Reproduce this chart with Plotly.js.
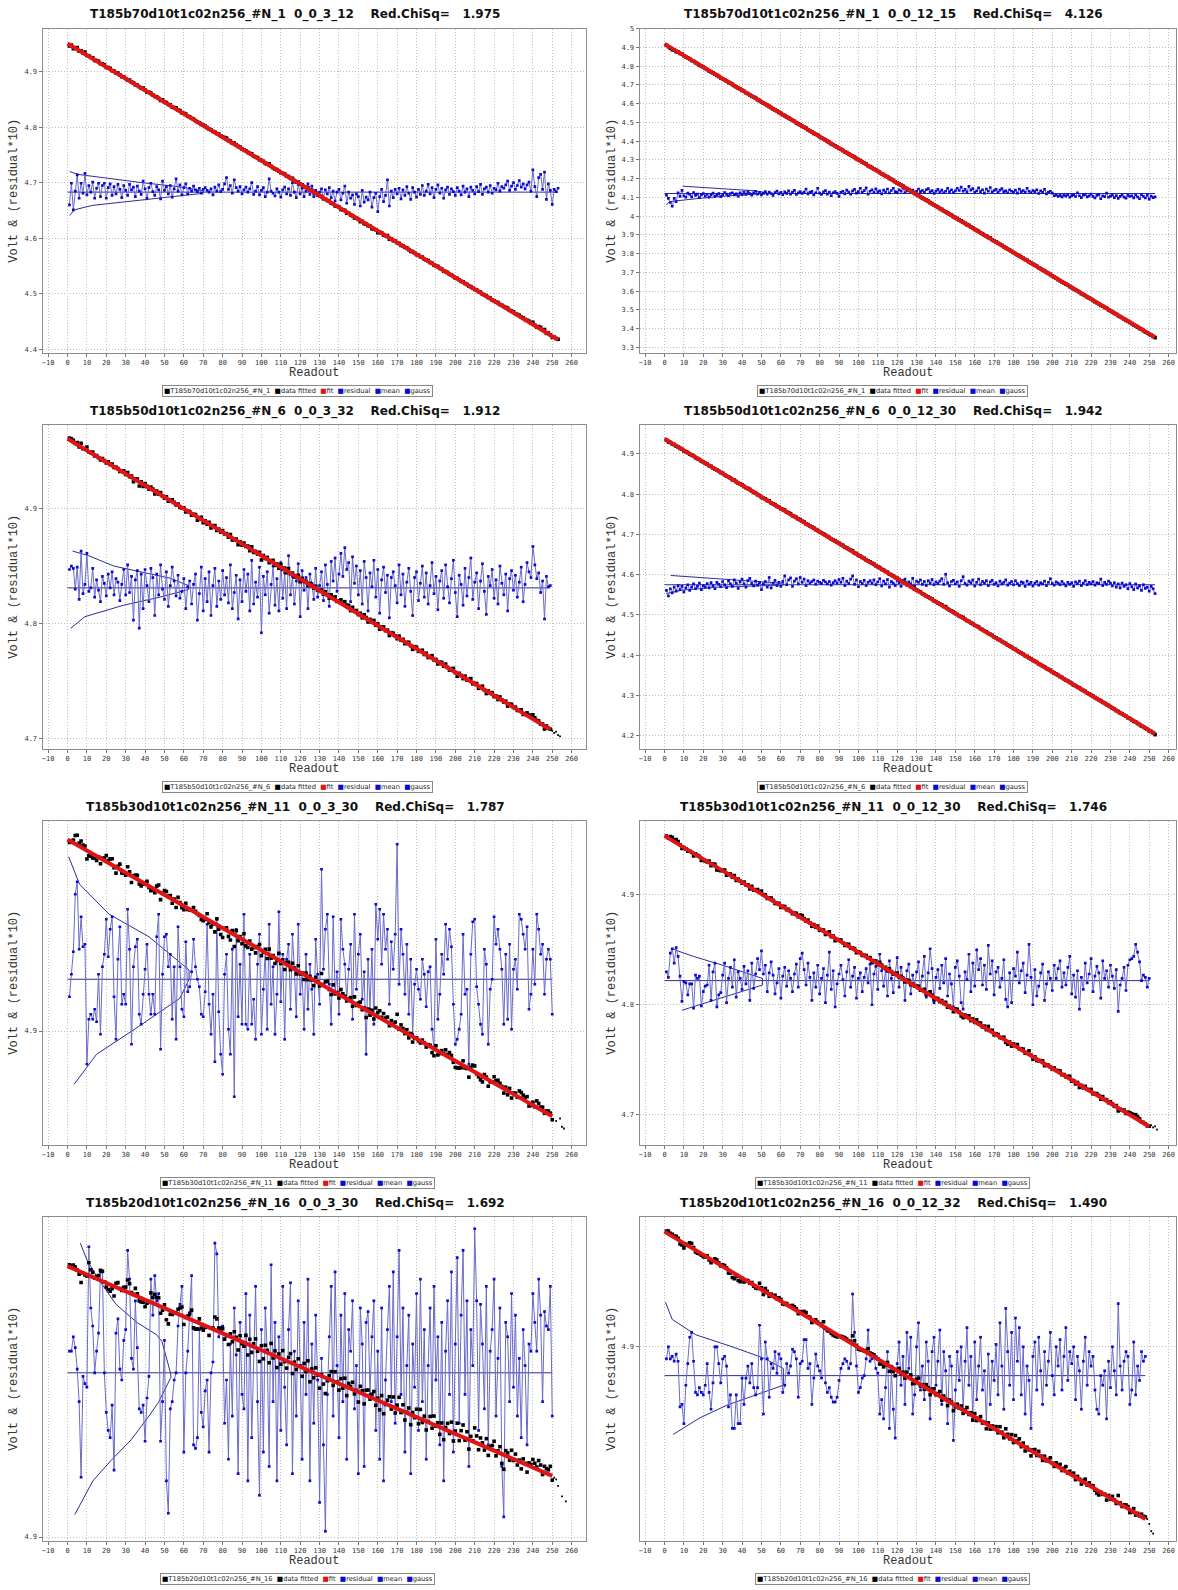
<!DOCTYPE html>
<html><head><meta charset="utf-8">
<script src="https://cdn.plot.ly/plotly-3.0.1.min.js"></script>
<style>html,body{margin:0;padding:0;background:#fff;}#chart{width:1178px;height:1590px;}</style>
</head><body><div id="chart"></div>
<script>
// ---------------- DATA ----------------
const titles = [
  "T185b70d10t1c02n256_#N_1  0_0_3_12    Red.ChiSq=   1.975",
  "T185b70d10t1c02n256_#N_1  0_0_12_15    Red.ChiSq=   4.126",
  "T185b50d10t1c02n256_#N_6  0_0_3_32    Red.ChiSq=   1.912",
  "T185b50d10t1c02n256_#N_6  0_0_12_30    Red.ChiSq=   1.942",
  "T185b30d10t1c02n256_#N_11  0_0_3_30    Red.ChiSq=   1.787",
  "T185b30d10t1c02n256_#N_11  0_0_12_30    Red.ChiSq=   1.746",
  "T185b20d10t1c02n256_#N_16  0_0_3_30    Red.ChiSq=   1.692",
  "T185b20d10t1c02n256_#N_16  0_0_12_32    Red.ChiSq=   1.490"
];
const seriesNames = ["T185b70d10t1c02n256_#N_1","T185b70d10t1c02n256_#N_1","T185b50d10t1c02n256_#N_6","T185b50d10t1c02n256_#N_6",
  "T185b30d10t1c02n256_#N_11","T185b30d10t1c02n256_#N_11","T185b20d10t1c02n256_#N_16","T185b20d10t1c02n256_#N_16"];
const legendLabels = ["data fitted","fit","residual","mean","gauss"];
const xAxisTitle = "Readout";
const yAxisTitle = "Volt & (residual*10)";
const firstReadout = 1;

// linear fit end points (readout, volt)
const fitX = [[0,253],[0,253],[0,249],[0,253],[0,250],[0,250],[0,250],[0,248]];
const fitY = [[4.951,4.417],[4.919,3.354],[4.9606,4.708],[4.938,4.205],[4.9766,4.8659],[4.9535,4.6889],[4.9752,4.917],[4.9478,4.8281]];
// mean level of the residual*10 band
const means = [4.683, 4.121, 4.831, 4.575, 4.9207, 4.8217, 4.9456, 4.8878];

// residual*10 about the mean, in units of 0.001 V, readout 1,2,3,...
const res_p1 = [-23,16,-32,2,31,-11,16,-2,34,-5,12,0,18,-11,7,16,-8,12,16,-11,8,15,-6,10,-3,14,5,-10,12,3,
-6,14,4,9,-8,11,2,-4,20,6,-11,8,16,1,-6,10,4,-12,20,3,10,-3,12,-9,6,24,2,13,-5,8,
15,-3,7,2,11,4,1,7,-2,5,8,3,0,6,-5,9,2,13,1,5,15,26,5,12,-2,22,8,2,10,-3,
4,9,0,6,17,-4,2,10,-5,3,8,-8,0,24,2,-2,-7,6,0,-9,4,9,-3,6,-6,17,0,-10,14,-3,
7,-8,2,15,-4,11,-8,3,-6,0,6,-12,4,-3,8,-10,2,-16,0,5,-14,-2,11,-20,0,-11,-5,-22,-3,-8,
-25,3,-18,-9,-14,0,-27,-10,-2,-35,-8,5,-17,-6,22,-25,2,-10,5,-3,7,-12,4,-6,10,-2,-13,8,0,-9,
5,-4,12,-6,2,14,-3,8,-10,5,13,-2,7,-11,4,9,-4,6,1,-6,8,2,-5,11,0,6,-8,9,3,-3,
10,1,14,-4,6,9,0,12,-2,7,4,16,2,10,7,13,20,3,11,17,5,12,21,9,15,6,13,18,2,40,
10,-8,26,32,5,36,-13,15,3,-22,5,1,7];
const res_p2 = [-9,-26,-48,-68,-26,-43,3,-15,17,-12,-20,2,-5,-18,5,-10,-3,-22,-8,0,-14,-4,-20,-7,2,-15,-9,-1,-17,-6,
5,-3,-12,0,4,-8,-2,-14,3,-6,7,-5,10,-1,-9,4,12,-3,6,-7,2,10,-4,8,0,-10,5,13,-2,6,
-6,9,1,14,-3,7,17,-5,3,10,0,8,24,-2,6,11,-8,4,28,2,-5,9,15,-3,7,-12,4,10,1,-15,
6,12,-2,18,8,-4,14,22,2,10,28,6,15,30,-4,12,20,5,25,9,14,-2,18,8,24,3,16,28,10,6,
20,12,30,4,14,22,8,18,2,12,24,10,16,6,20,26,9,15,1,13,22,7,18,4,12,27,10,20,5,14,
28,16,34,12,22,8,38,18,26,6,14,30,10,20,2,24,12,32,8,16,22,6,18,26,10,14,4,20,12,8,
18,2,24,10,16,6,28,12,4,16,10,20,0,14,6,22,-2,8,12,2,-12,-8,-15,-10,-18,-9,-14,-6,-20,-11,
-7,-16,4,-12,-22,-9,-5,-18,-13,-3,-15,-24,-10,-6,-28,-12,-17,2,-20,-14,-9,-22,-11,-26,-15,-7,-19,-25,-10,-16,
-12,-23,-8,-18,-28,-6,-15,-24,-9,-30,-14,-22,-18];
const res_p3 = [16,19,17,-1,18,-10,32,-5,3,30,-3,0,17,-8,7,-2,-12,10,4,-7,12,0,14,-6,8,5,-11,3,16,-6,
20,-4,10,-28,7,15,-35,12,-18,16,2,-12,17,9,-24,12,-6,20,-1,-10,14,-16,2,18,6,-7,11,-9,-3,8,
-18,1,6,-14,3,12,-28,-5,18,-20,8,-12,14,-24,2,17,-16,6,-10,15,-6,9,-13,20,-18,-4,11,-27,7,-12,
16,-3,12,-20,24,-14,5,-8,18,-39,10,-6,14,-22,3,19,-15,8,-20,22,-9,13,-18,28,-6,10,-14,6,21,-25,
15,-2,9,-18,12,4,-10,17,-8,2,14,-11,20,3,-16,23,6,26,-3,12,30,10,35,16,22,-12,27,4,19,-6,
15,-14,23,9,-20,13,1,24,-8,16,-22,7,18,-4,11,-26,9,14,2,-13,20,-6,12,-16,5,17,-3,-24,9,14,
-11,4,19,-8,13,-14,2,22,-5,10,-19,6,15,-9,20,1,-13,8,24,-4,-25,11,3,-15,17,-7,9,26,-10,5,
13,-18,6,21,-3,-23,10,2,16,-9,7,-14,19,4,-6,12,-20,8,15,-2,11,-8,5,18,-12,3,22,14,9,36,
20,8,13,-4,6,-27,10,1,2];
const res_p4 = [-14,-28,-10,-20,-6,-16,-2,-12,-4,-18,-8,0,-14,-6,2,-10,-4,4,-12,-2,-6,3,-8,5,-2,-10,6,1,-5,8,
0,-7,10,2,-4,12,4,-9,7,14,2,-6,10,16,3,-3,9,-1,5,-12,2,8,-6,18,-8,4,11,-2,6,-4,
8,22,0,12,17,-4,9,15,2,18,6,14,-2,10,4,8,12,1,9,6,3,11,7,2,8,-1,5,10,4,13,
6,16,-2,9,3,14,22,1,12,-5,8,3,11,-2,6,10,4,12,0,7,15,-3,9,2,13,-6,8,4,-2,11,
5,-4,10,14,-1,7,2,16,-3,9,6,12,1,8,-2,10,4,13,0,7,3,9,15,1,26,5,-3,8,11,2,
7,-4,10,20,3,-1,9,5,12,-3,6,14,0,8,4,10,-2,7,11,1,5,-3,9,2,6,12,-1,4,8,0,
10,3,-2,7,5,-4,9,1,6,-3,4,8,-1,5,2,9,-2,6,15,3,-1,7,4,0,8,2,-3,6,1,5,
-4,7,3,9,-2,4,10,0,6,2,8,-1,5,3,14,-2,6,1,9,4,-3,5,-6,2,-8,4,-4,0,-10,3,
-5,-12,2,-8,-3,-14,0,-9,-6,-16,-4,-10,-22];
const res_p5 = [-7,2,11,34,39,12,25,13,14,-34,-16,-14,-16,-12,-17,2,-22,5,10,24,9,20,25,-7,-24,8,21,-10,-6,-10,
28,12,-26,5,13,16,-14,-18,-6,4,14,-6,-14,-6,-14,17,26,-28,2,17,18,5,10,-16,5,-24,21,5,-12,-15,
15,-5,-3,3,16,5,0,-3,-14,-15,-5,22,-10,-22,-6,-33,24,-13,-30,-38,2,10,-20,-30,12,-47,20,-15,6,-18,
26,-18,-20,10,-18,-8,-24,6,18,-22,-4,12,-20,22,-10,5,-22,-6,27,-9,10,-24,8,14,-12,18,4,-15,22,-6,
2,-20,10,-12,6,-4,-22,16,2,-10,44,4,20,26,-2,-18,25,-6,3,-14,24,12,6,-8,4,14,-16,26,-4,10,
18,-8,3,-30,8,-12,12,-18,30,16,28,6,26,12,20,-10,15,4,18,54,-2,20,10,-6,14,-14,8,-22,-2,4,
-4,-8,8,2,-11,3,5,-20,-28,16,-16,-6,10,2,22,8,20,13,-10,-26,-24,-20,-14,18,-6,-4,-34,10,23,24,
-3,-10,-18,-22,12,6,-26,-4,0,25,14,20,12,4,-18,10,-16,14,-20,4,8,-4,26,24,18,12,21,-12,-6,12,
-2,26,20,10,14,-6,8,12,8,-14];
const res_p6 = [8,3,25,29,16,30,22,4,-19,-1,-2,-13,-3,-3,-25,5,2,4,-23,-10,-5,-4,14,-18,8,16,-24,-13,-11,5,
16,-20,2,12,-6,19,-15,8,2,-8,13,-3,9,-18,16,-7,6,20,10,27,6,14,-10,7,17,5,-12,-2,11,-16,
4,12,-5,9,2,-10,6,15,-6,20,25,10,-4,16,3,-18,7,-6,14,-12,2,11,-20,5,26,-8,9,-24,-3,6,
14,1,-14,8,19,-6,4,12,-16,2,7,-10,3,11,-2,15,-22,6,13,-8,24,9,-5,10,-14,18,2,-11,6,21,
-6,12,3,-18,9,15,-12,5,-4,8,17,-9,4,22,-15,7,29,11,-20,3,10,-7,14,-2,20,-14,6,-3,-24,12,
18,4,-20,-26,8,1,24,-10,16,-5,28,10,20,-4,14,-8,32,6,18,-13,8,12,-6,2,19,-17,-24,7,-20,11,
4,26,-2,9,16,-11,5,33,3,-22,10,-14,-5,7,15,-18,-3,8,2,-9,14,2,11,18,-6,7,-4,12,22,-12,
5,-15,9,-26,3,-8,16,-2,6,20,-10,4,13,7,-16,18,2,9,-6,14,4,-7,10,-28,-4,2,12,-9,14,19,
20,22,33,26,17,0,5,3,-6,2];
const res_p7 = [6,6,10,7,1,-8,-29,-1,-3,-4,35,18,13,0,6,11,28,28,0,-11,-16,-18,-9,-27,11,15,1,-2,9,12,
34,26,4,1,20,7,-10,-11,-9,-19,-7,-1,26,16,27,20,22,-19,-8,9,-30,-39,-10,-8,-2,0,13,19,24,-22,
0,6,16,27,-20,-21,-18,12,-11,-15,-5,-2,-22,0,3,36,33,10,12,13,-14,-2,-24,8,-12,18,5,-28,14,-6,
-10,22,-30,16,-18,8,24,-8,-34,12,-22,18,6,-26,30,-8,14,-30,10,-16,24,-4,-20,12,25,-28,6,-12,20,2,
-24,14,-6,26,-30,8,-14,16,-2,-36,4,-20,-44,-6,10,24,-12,28,2,-18,16,-8,22,-24,12,6,20,-10,2,-28,
18,8,-26,14,17,-6,10,20,-16,6,-24,18,-30,-2,12,24,-8,28,-14,10,34,-6,18,-22,2,16,-28,8,-4,22,
-16,26,-8,12,-24,2,18,-12,24,-2,10,-20,14,-30,6,20,-6,28,-22,8,32,-14,16,34,-6,20,-26,12,2,40,
20,-16,19,8,-10,24,-20,6,12,26,-12,4,18,-26,-40,14,10,-8,22,-4,16,-12,4,-18,12,2,-20,8,6,22,
14,6,26,16,-8,17,13,12,24,-12];
const res_p8 = [7,12,7,8,6,9,6,-13,-12,-20,-4,5,16,18,6,-7,-8,-5,-7,-8,-4,5,-7,-14,-3,12,12,5,-3,7,
8,4,-13,-8,-22,-22,-8,-20,-20,-1,-12,-1,4,-3,5,-5,-8,-5,21,7,-16,14,7,-9,5,3,10,1,9,7,
-7,-4,5,1,4,11,10,7,-9,5,6,15,15,3,5,-12,-1,9,4,2,-1,20,-3,-7,-5,-9,-11,-11,-9,-2,
3,5,7,6,3,5,34,18,4,-7,-5,-1,0,7,19,6,7,8,3,1,-16,-10,-18,-5,10,-22,2,-14,-26,5,
14,-4,8,-12,18,3,16,-16,-8,12,22,-6,4,-10,14,6,-18,10,16,-4,6,19,-12,10,2,-20,8,4,-27,-6,
10,-2,12,-14,6,20,-4,8,-18,14,-10,4,16,-6,2,-20,9,-12,6,-2,13,-8,22,4,-14,28,10,-4,18,-10,
24,6,20,-8,12,-16,4,-2,-22,8,14,-6,16,2,-12,10,-4,6,18,0,-8,12,4,15,-6,8,20,-2,10,5,
12,-10,8,2,-14,6,16,-4,10,4,8,-6,-14,-16,0,-4,2,-18,6,-5,12,2,-8,30,4,-6,6,10,8,-12,
-6,14,-8,4,-2,10,6,8];
const residuals = [res_p1,res_p2,res_p3,res_p4,res_p5,res_p6,res_p7,res_p8];

// gauss curve vertices: readout and offset from the mean (0.001 V)
const gaussX = [
  [1.1,3.5,12.7,29,47.7,70,70,57,38.5,20,5.3,1.1],
  [0.9,2.7,18,36,54,47,9.4],
  [1.7,5.3,9,29,47.7,62.4,62.4,53,38.5,23.8,10.9,2.6],
  [0.9,9,27,61.4,61.4,36,18,3.2],
  [3.4,15,36.5,58,62.7,62.7,42,21.5,6.2,0.6],
  [9,25,40,50.5,50.5,30,15,3.6],
  [3.7,13.1,22.5,32.8,42,46.8,53.4,53,48.7,45.9,36,25,16,10.3,6.6],
  [4.5,18,32.5,46.9,61.3,61.3,50.5,34.3,16.2,4,0.5]
];
const gaussDev = [
  [-42,-32,-24,-18,-11,-2,2.4,10,17,25,32,37],
  [-62,-43,-26,-10,0,14,39],
  [-35,-30,-25,-15,-8,-1.4,2,8.4,13.5,19,28,32],
  [-22,-13.6,-6.2,-0.6,3.4,12,17.5,23],
  [-42,-30,-19,-7.6,0,3.7,17,26,38,49],
  [-27,-18,-10,-4,2,14,22,29],
  [-39.4,-30,-24.3,-18.6,-12,-8.3,-1.2,0.2,8.7,10.6,13.9,19,26,31,36],
  [-24.5,-17.7,-12.2,-8.2,-4,3,7.5,12.2,17,23.4,30.6]
];
// raw readouts past the fitted range (tiny dots)
const tailX = [[],[],[250,251,252,253,254],[],[252,254,255,256],[251,252,253,254],[251,252,253,255,257],[249,250,251,252]];
const tailY = [[],[],[4.707,4.705,4.706,4.703,4.702],[],[4.864,4.865,4.8617,4.861],[4.690,4.688,4.689,4.686],[4.9165,4.916,4.9142,4.9113,4.9099],[4.828,4.826,4.823,4.822]];

// ---------------- LAYOUT GEOMETRY ----------------
const W = 1178, H = 1590;
const colL = [42.5, 639.5], colR = [586, 1176];
const xRanges = [[-12.9, 267.4], [-12.9, 263.8]];
const rowTop = [28.5, 424.5, 820.5, 1216.5], plotH = 324.5;
const yRanges = [[4.393,4.978],[3.2703,5.001],[4.691,4.973],[4.167,4.973],[4.8544,4.9842],[4.672,4.9675],[4.8989,4.989],[4.8189,4.9541]];
const titleCX = [295, 893], legendCX = [297, 892], yTitleX = [14, 612];

const RED = '#e01414', BLUE = '#0a0ad2', BLUELINE = '#6a6ac8', DARKBLUE = '#2c2c96';
const traces = [], annotations = [], layout = {
  width: W, height: H, margin: {l:0, r:0, t:0, b:0},
  paper_bgcolor: '#fff', plot_bgcolor: '#fff', showlegend: false
};
const nb = s => s.replace(/ /g, '\u00a0');

for (let k = 0; k < 8; k++) {
  const col = k % 2, row = Math.floor(k / 2);
  const n = k === 0 ? '' : String(k + 1);
  const xa = 'x' + n, ya = 'y' + n;
  const top = rowTop[row], bot = top + plotH;
  const axCommon = {
    showgrid: true, gridcolor: '#bdbdbd', griddash: '1px,2px', gridwidth: 1,
    zeroline: false, showline: true, mirror: true, linecolor: '#8c8c8c', linewidth: 1,
    ticks: 'outside', ticklen: 3, tickcolor: '#777',
    tickfont: {family: 'DejaVu Sans Mono, monospace', size: 7, color: '#333'}
  };
  layout['xaxis' + n] = Object.assign({}, axCommon, {
    domain: [colL[col] / W, colR[col] / W], range: xRanges[col], tick0: 0, dtick: 10, anchor: ya
  });
  layout['yaxis' + n] = Object.assign({}, axCommon, {
    domain: [1 - bot / H, 1 - top / H], range: yRanges[k], tick0: 0, dtick: 0.1, anchor: xa
  });

  const res = residuals[k], m = means[k], fx = fitX[k], fy = fitY[k];
  const rx = res.map((_, i) => firstReadout + i);
  const fitAt = x => fy[0] + (fy[1] - fy[0]) * (x - fx[0]) / (fx[1] - fx[0]);

  // gauss
  traces.push({x: gaussX[k], y: gaussDev[k].map(d => m + d / 1000), xaxis: xa, yaxis: ya,
    mode: 'lines', line: {color: DARKBLUE, width: 1}, hoverinfo: 'skip'});
  // mean
  traces.push({x: [fx[0], rx[rx.length - 1]], y: [m, m], xaxis: xa, yaxis: ya,
    mode: 'lines', line: {color: DARKBLUE, width: 1}, hoverinfo: 'skip'});
  // residual*10
  traces.push({x: rx, y: res.map(r => m + r / 1000), xaxis: xa, yaxis: ya,
    mode: 'lines+markers', line: {color: BLUELINE, width: 1},
    marker: {symbol: 'square', size: 2.7, color: BLUE}, hoverinfo: 'skip'});
  // data fitted (fit + residual)
  traces.push({x: rx, y: res.map((r, i) => fitAt(rx[i]) + r / 10000), xaxis: xa, yaxis: ya,
    mode: 'markers', marker: {symbol: 'square', size: 3.6, color: '#000'}, hoverinfo: 'skip'});
  // fit
  traces.push({x: fx, y: fy, xaxis: xa, yaxis: ya, mode: 'lines',
    line: {color: RED, width: 4}, hoverinfo: 'skip'});
  // raw tail dots
  traces.push({x: tailX[k], y: tailY[k], xaxis: xa, yaxis: ya, mode: 'markers',
    marker: {symbol: 'square', size: 1.8, color: '#000'}, hoverinfo: 'skip'});

  // panel title
  annotations.push({xref: 'paper', yref: 'paper', x: titleCX[col] / W, y: 1 - (top - 13.5) / H,
    xanchor: 'center', yanchor: 'middle', showarrow: false,
    text: '<b>' + nb(titles[k]) + '</b>', font: {family: 'DejaVu Sans, sans-serif', size: 12, color: '#111'}});
  // x title
  annotations.push({xref: 'paper', yref: 'paper', x: (colL[col] + colR[col]) / 2 / W, y: 1 - (bot + 20) / H,
    xanchor: 'center', yanchor: 'middle', showarrow: false, text: xAxisTitle,
    font: {family: 'Liberation Mono, monospace', size: 12, color: '#333'}});
  // y title
  annotations.push({xref: 'paper', yref: 'paper', x: yTitleX[col] / W, y: 1 - (top + plotH / 2) / H,
    xanchor: 'center', yanchor: 'middle', showarrow: false, textangle: -90, text: nb(yAxisTitle),
    font: {family: 'Liberation Mono, monospace', size: 12, color: '#333'}});
  // legend box
  const sq = c => '<span style="color:' + c + '">\u25A0</span>';
  const legText = sq('#000') + nb(seriesNames[k] + '  ') + sq('#000') + nb(legendLabels[0] + '  ') +
    sq(RED) + nb(legendLabels[1] + '  ') + sq(BLUE) + nb(legendLabels[2] + '  ') +
    sq(BLUE) + nb(legendLabels[3] + '  ') + sq(BLUE) + nb(legendLabels[4]);
  annotations.push({xref: 'paper', yref: 'paper', x: legendCX[col] / W, y: 1 - (bot + 38) / H,
    xanchor: 'center', yanchor: 'middle', showarrow: false, text: legText,
    font: {family: 'DejaVu Sans, sans-serif', size: 6.7, color: '#222'},
    bordercolor: '#888', borderwidth: 1, borderpad: 1, bgcolor: '#fff'});
}
layout.annotations = annotations;
Plotly.newPlot('chart', traces, layout, {staticPlot: true, displayModeBar: false});
</script></body></html>
